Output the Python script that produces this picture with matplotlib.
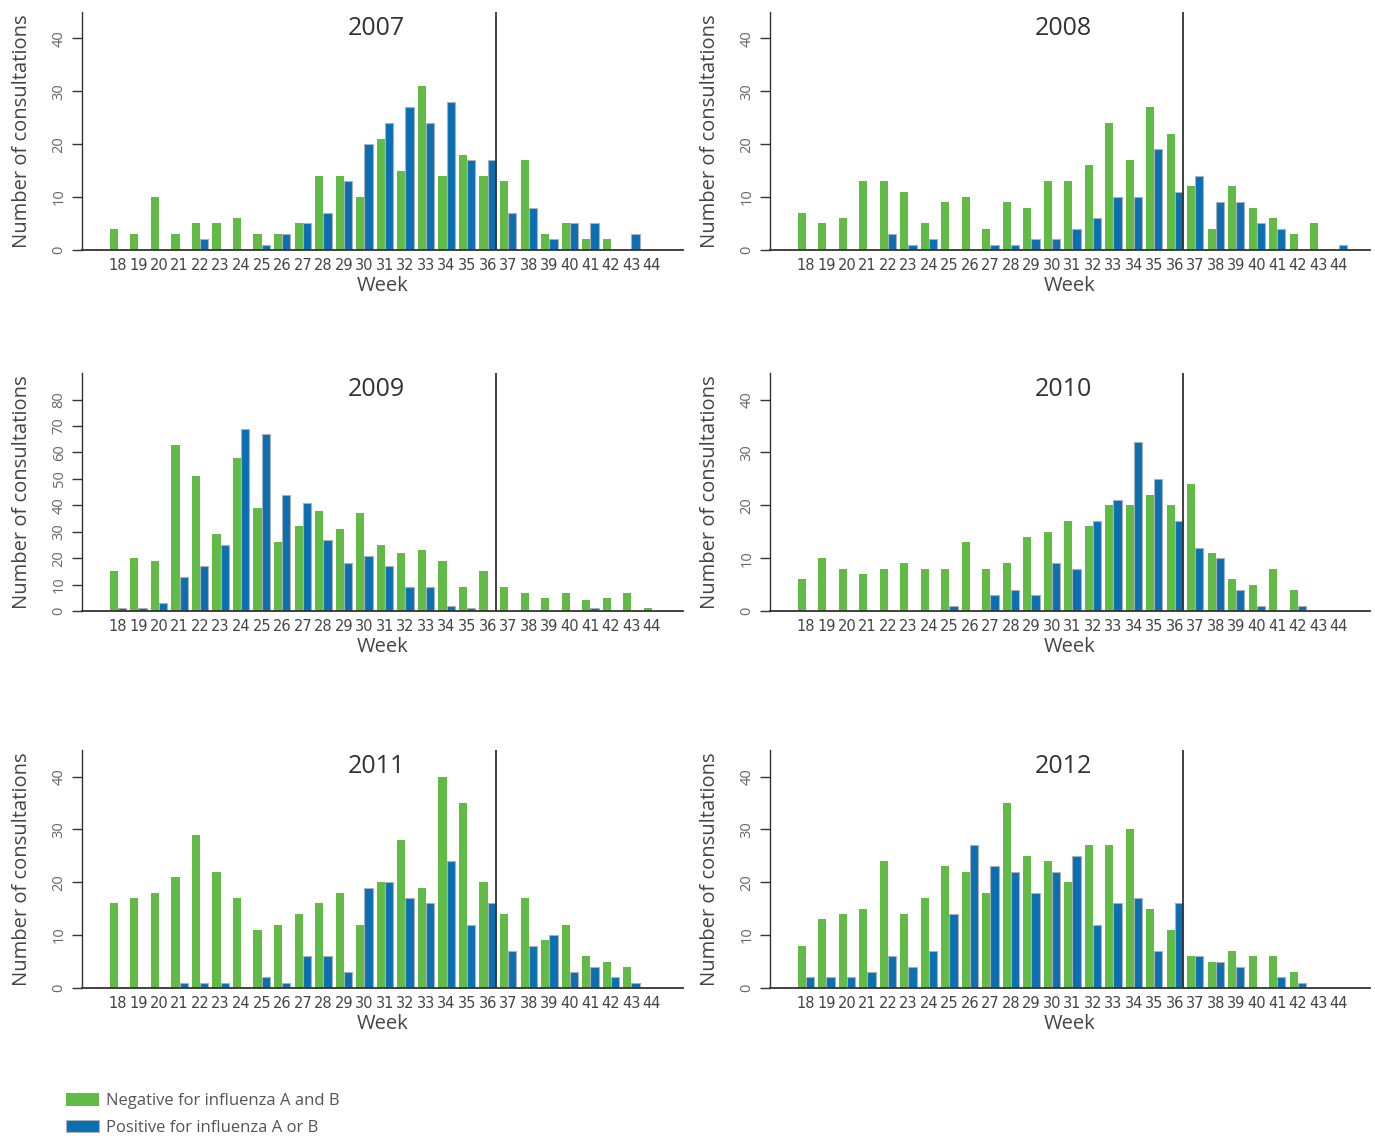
import matplotlib
matplotlib.use("Agg")
import matplotlib.pyplot as plt
import numpy as np

weeks = list(range(18, 45))
week_labels = [str(w) for w in weeks]
years = ["2007", "2008", "2009", "2010", "2011", "2012"]

# consultations per week, negative for influenza A and B
neg_2007 = [4, 3, 10, 3, 5, 5, 6, 3, 3, 5, 14, 14, 10, 21, 15, 31, 14, 18, 14, 13, 17, 3, 5, 2, 2, 0, 0]
neg_2008 = [7, 5, 6, 13, 13, 11, 5, 9, 10, 4, 9, 8, 13, 13, 16, 24, 17, 27, 22, 12, 4, 12, 8, 6, 3, 5, 0]
neg_2009 = [15, 20, 19, 63, 51, 29, 58, 39, 26, 32, 38, 31, 37, 25, 22, 23, 19, 9, 15, 9, 7, 5, 7, 4, 5, 7, 1]
neg_2010 = [6, 10, 8, 7, 8, 9, 8, 8, 13, 8, 9, 14, 15, 17, 16, 20, 20, 22, 20, 24, 11, 6, 5, 8, 4, 0, 0]
neg_2011 = [16, 17, 18, 21, 29, 22, 17, 11, 12, 14, 16, 18, 12, 20, 28, 19, 40, 35, 20, 14, 17, 9, 12, 6, 5, 4, 0]
neg_2012 = [8, 13, 14, 15, 24, 14, 17, 23, 22, 18, 35, 25, 24, 20, 27, 27, 30, 15, 11, 6, 5, 7, 6, 6, 3, 0, 0]

# consultations per week, positive for influenza A or B
pos_2007 = [0, 0, 0, 0, 2, 0, 0, 1, 3, 5, 7, 13, 20, 24, 27, 24, 28, 17, 17, 7, 8, 2, 5, 5, 0, 3, 0]
pos_2008 = [0, 0, 0, 0, 3, 1, 2, 0, 0, 1, 1, 2, 2, 4, 6, 10, 10, 19, 11, 14, 9, 9, 5, 4, 0, 0, 1]
pos_2009 = [1, 1, 3, 13, 17, 25, 69, 67, 44, 41, 27, 18, 21, 17, 9, 9, 2, 1, 0, 0, 0, 0, 0, 1, 0, 0, 0]
pos_2010 = [0, 0, 0, 0, 0, 0, 0, 1, 0, 3, 4, 3, 9, 8, 17, 21, 32, 25, 17, 12, 10, 4, 1, 0, 1, 0, 0]
pos_2011 = [0, 0, 0, 1, 1, 1, 0, 2, 1, 6, 6, 3, 19, 20, 17, 16, 24, 12, 16, 7, 8, 10, 3, 4, 2, 1, 0]
pos_2012 = [2, 2, 2, 3, 6, 4, 7, 14, 27, 23, 22, 18, 22, 25, 12, 16, 17, 7, 16, 6, 5, 4, 0, 2, 1, 0, 0]

negatives = [neg_2007, neg_2008, neg_2009, neg_2010, neg_2011, neg_2012]
positives = [pos_2007, pos_2008, pos_2009, pos_2010, pos_2011, pos_2012]
y_max = [45, 45, 90, 45, 45, 45]

GREEN = "#62bb46"
BLUE = "#0b6fb2"
TEXT = "#444444"
plt.rcParams["font.family"] = ["Open Sans", "DejaVu Sans"]

fig = plt.figure(figsize=(13.75, 11.36), dpi=100)

lefts = [0.0596, 0.560]
width_l, width_r = 0.437, 0.436
bottoms = [0.780, 0.4621, 0.1303]
height = 0.2094

x = np.array(weeks)
bw = 0.4
for i, year in enumerate(years):
    row, col = divmod(i, 2)
    ax = fig.add_axes([lefts[col], bottoms[row],
                       width_l if col == 0 else width_r, height])
    b1 = ax.bar(x - bw / 2, negatives[i], bw, color=GREEN, linewidth=0)
    b2 = ax.bar(x + bw / 2, positives[i], bw, color=BLUE,
                edgecolor="#a9b0b8", linewidth=0.8)
    ax.set_xlim(16.25, 45.5)
    ax.set_ylim(0, y_max[i])
    ax.axvline(36.4, color="#333333", lw=1.3)
    ax.text(0.49, 0.985, year, transform=ax.transAxes, ha="center", va="top",
            fontsize=18, color="#333333")

    for s in ["top", "right"]:
        ax.spines[s].set_visible(False)
    ax.spines["left"].set_color("#333333")
    ax.spines["bottom"].set_color("#333333")
    ax.spines["left"].set_linewidth(1.0)
    ax.spines["bottom"].set_linewidth(1.3)

    ax.set_xticks(weeks)
    ax.set_xticklabels(week_labels, family=["Liberation Sans Narrow", "DejaVu Sans"],
                       fontsize=10.5, color=TEXT)
    ax.tick_params(axis="x", length=0, pad=6)
    ax.set_yticks(np.arange(0, y_max[i], 10))
    ax.tick_params(axis="y", length=7, width=1, color="#333333",
                   labelsize=10.5, labelcolor="#666666", pad=4)
    for lab in ax.get_yticklabels():
        lab.set_rotation(90)
        lab.set_va("center")
    ax.set_xlabel("Week", fontsize=14.5, color=TEXT, labelpad=2)
    ax.set_ylabel("Number of consultations", fontsize=14.5, color=TEXT, labelpad=14)

    if i == 0:
        handles = [b1, b2]

fig.legend(handles, ["Negative for influenza A and B", "Positive for influenza A or B"],
           loc="upper left", bbox_to_anchor=(0.048, 0.0375), frameon=False,
           fontsize=12, handlelength=1.95, handleheight=0.75, labelspacing=0.62,
           handletextpad=0.45, borderpad=0, borderaxespad=0, labelcolor="#555555")

fig.savefig("out.png", dpi=100)
